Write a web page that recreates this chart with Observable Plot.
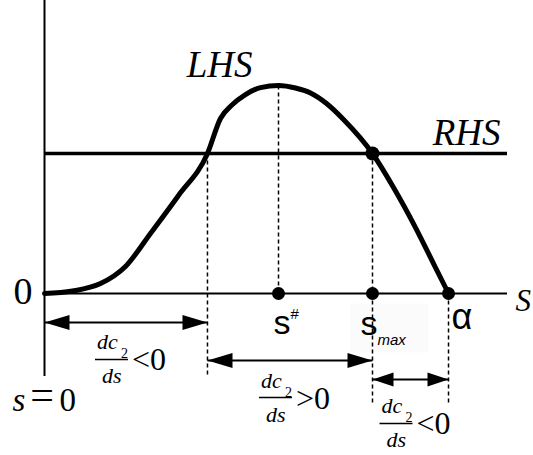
<!DOCTYPE html>
<html>
<head>
<meta charset="utf-8">
<script src="https://cdn.jsdelivr.net/npm/d3@7"></script>
<script src="https://cdn.jsdelivr.net/npm/@observablehq/plot@0.6"></script>
<style>
  html, body { margin: 0; padding: 0; background: #fff; }
  svg { display: block; }
</style>
</head>
<body>
<div id="chart"></div>
<script>
// LHS as a function of s (the RHS level is taken as 1)
const sPoints   = [0, 0.605, 1.21, 1.749, 2.289, 2.894, 3.52, 3.801, 4.06, 4.341, 4.665, 5.054, 5.421, 5.745, 6.091, 6.458, 7.084, 7.538, 8.013, 8.402, 8.726];
const lhsPoints = [0, 0.018, 0.071, 0.193, 0.429, 0.70, 1.0, 1.25, 1.35, 1.421, 1.471, 1.486, 1.468, 1.432, 1.357, 1.243, 1.0, 0.757, 0.471, 0.214, 0];
const rhsLevel = 1;

// points marked on the s axis: s#, s_max and α
const markerS = [5.054, 7.084, 8.726];

// intervals between 0, the first crossing, s_max and α, with the sign of dc2/ds
const intervalBounds = [0, 3.52, 7.084, 8.726];
const intervalSigns = ["<", ">", "<"];

// axis extents
const sAxisEnd = 10;
const lhsAxisTop = 2.093;
const lhsAxisBottom = -0.593;

const curve = sPoints.map((s, i) => ({s, lhs: lhsPoints[i]}));
const peak = Math.max(...lhsPoints);
const sPeak = sPoints[lhsPoints.indexOf(peak)];
const [sSharp, sMax, sAlpha] = markerS;
const sCross = intervalBounds[1];

const serif = "'Liberation Serif', 'Times New Roman', serif";
const sans = "'Liberation Sans', Arial, sans-serif";

// layout levels below the s axis (in LHS units)
const arrowLevels = [-0.207, -0.479, -0.614];
const guideLow = [-0.60, -0.786];

// custom shapes drawn through Plot.dot
const shape = (draw) => ({draw});
const headRight = (L, h) => shape(ctx => { ctx.moveTo(0, 0); ctx.lineTo(-L, -h); ctx.lineTo(-L, h); ctx.closePath(); });
const headLeft = (L, h) => shape(ctx => { ctx.moveTo(0, 0); ctx.lineTo(L, -h); ctx.lineTo(L, h); ctx.closePath(); });
const box = (x, y, w, h) => shape(ctx => { ctx.rect(x, y, w, h); });

const label = (s, y, text, o) => Plot.text([{s, y}], {
  x: "s", y: "y", text: () => text, lineAnchor: "bottom", fill: "black", stroke: "none", ...o
});

// dc2/ds fraction placed under the i-th interval arrow
function fraction(i, extraDy) {
  const s = (intervalBounds[i] + intervalBounds[i + 1]) / 2;
  const y = arrowLevels[i];
  const ox = -31, oy = 37 + extraDy;
  const t = (text, dx, dy, size, style) => label(s, y, text, {
    dx: ox + dx, dy: oy + dy, fontSize: size, fontFamily: serif, fontStyle: style, textAnchor: "start"
  });
  return [
    Plot.dot([{s, y}], {x: "s", y: "y", symbol: box(0, -0.8, 33, 1.6), dx: ox, dy: oy, fill: "black", stroke: "none"}),
    t("dc", 2, -10, 22, "italic"),
    t("2", 26, -1, 14, "normal"),
    t("ds", 7, 24, 22, "italic"),
    t(intervalSigns[i] + "0", 37, 11, 32, "normal")
  ];
}

const arrows = intervalSigns.map((sign, i) => ({a: intervalBounds[i], b: intervalBounds[i + 1], y: arrowLevels[i], i}));
const bigArrows = arrows.filter(d => d.i < 2);
const smallArrows = arrows.filter(d => d.i === 2);

const guides = [
  {s: sCross, y1: rhsLevel, y2: guideLow[0]},
  {s: sPeak, y1: peak, y2: 0},
  {s: sMax, y1: rhsLevel, y2: guideLow[1]},
  {s: sAlpha, y1: 0, y2: guideLow[1]}
];

const chart = Plot.plot({
  width: 533,
  height: 455,
  margin: 0,
  style: {background: "#fff", overflow: "visible"},
  x: {domain: [0, sAxisEnd], range: [44, 507], axis: null},
  y: {domain: [0, rhsLevel], range: [293, 153], axis: null},
  marks: [
    // faint panel behind the s_max label
    Plot.dot([{s: sMax, y: 0}], {x: "s", y: "y", symbol: box(-22, 10, 78, 49), fill: "#fbfbfb", stroke: "none"}),
    // axes
    Plot.ruleX([0], {y1: lhsAxisBottom, y2: lhsAxisTop, stroke: "black", strokeWidth: 2}),
    Plot.ruleY([0], {x1: 0, x2: sAxisEnd, stroke: "black", strokeWidth: 2}),
    // RHS level
    Plot.ruleY([rhsLevel], {x1: 0, x2: sAxisEnd, stroke: "black", strokeWidth: 3.5}),
    // dashed guides
    Plot.link(guides, {x1: "s", x2: "s", y1: "y1", y2: "y2", stroke: "black", strokeWidth: 1.5, strokeDasharray: "4,3"}),
    // LHS curve
    Plot.line(curve, {x: "s", y: "lhs", curve: "monotone-x", stroke: "black", strokeWidth: 5, strokeLinecap: "round", strokeLinejoin: "round"}),
    // points
    Plot.dot(markerS, {x: d => d, y: () => 0, r: 6.5, fill: "black", stroke: "none"}),
    Plot.dot([sMax], {x: d => d, y: () => rhsLevel, r: 7, fill: "black", stroke: "none"}),
    // interval arrows
    Plot.link(arrows, {x1: "a", x2: "b", y1: "y", y2: "y", stroke: "black", strokeWidth: 2}),
    Plot.dot(bigArrows, {x: "a", y: "y", symbol: headLeft(25, 7.5), fill: "black", stroke: "none"}),
    Plot.dot(bigArrows, {x: "b", y: "y", symbol: headRight(25, 7.5), fill: "black", stroke: "none"}),
    Plot.dot(smallArrows, {x: "a", y: "y", symbol: headLeft(21, 7), fill: "black", stroke: "none"}),
    Plot.dot(smallArrows, {x: "b", y: "y", symbol: headRight(21, 7), fill: "black", stroke: "none"}),
    ...fraction(0, 0),
    ...fraction(1, 0),
    ...fraction(2, 7),
    // curve and axis labels
    label(sPeak, peak, "LHS", {textAnchor: "end", dx: -26, dy: -8, fontSize: 37, fontFamily: serif, fontStyle: "italic"}),
    label(sAxisEnd, rhsLevel, "RHS", {textAnchor: "end", dx: -7, dy: -9, fontSize: 37, fontFamily: serif, fontStyle: "italic"}),
    label(sAxisEnd, 0, "S", {textAnchor: "start", dx: 8, dy: 17, fontSize: 31, fontFamily: serif, fontStyle: "italic"}),
    label(0, 0, "0", {textAnchor: "end", dx: -12, dy: 10, fontSize: 38, fontFamily: serif}),
    label(0, lhsAxisBottom, "s", {textAnchor: "start", dx: -32, dy: 34, fontSize: 33, fontFamily: serif, fontStyle: "italic"}),
    label(0, lhsAxisBottom, "=", {textAnchor: "middle", dx: -2.5, dy: 32.5, fontSize: 42, fontFamily: serif}),
    label(0, lhsAxisBottom, "0", {textAnchor: "start", dx: 15, dy: 34, fontSize: 33, fontFamily: serif}),
    // labels of the marked points
    label(sSharp, 0, "s", {textAnchor: "start", dx: -5, dy: 40, fontSize: 34, fontFamily: sans}),
    label(sSharp, 0, "#", {textAnchor: "start", dx: 12, dy: 25, fontSize: 15, fontFamily: sans}),
    label(sMax, 0, "s", {textAnchor: "start", dx: -12, dy: 41, fontSize: 34, fontFamily: sans}),
    label(sMax, 0, "max", {textAnchor: "start", dx: 5, dy: 51, fontSize: 15, fontFamily: sans, fontStyle: "italic"}),
    label(sAlpha, 0, "α", {textAnchor: "start", dx: 3, dy: 35, fontSize: 36, fontFamily: sans})
  ]
});

document.getElementById("chart").append(chart);
</script>
</body>
</html>
